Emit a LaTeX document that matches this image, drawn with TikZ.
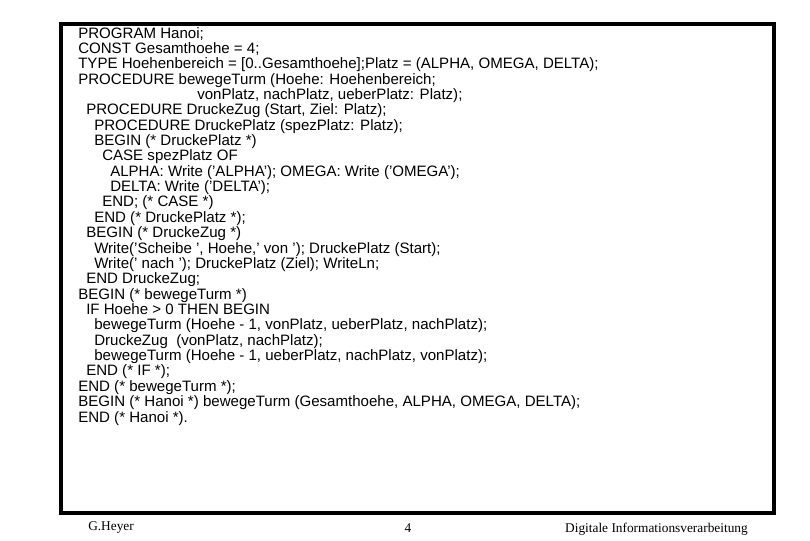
\documentclass[tikz,border=0pt]{standalone}
\usepackage{fontspec}
\setmainfont{Liberation Sans}
\newfontfamily\serif{Liberation Serif}
\begin{document}
\begin{tikzpicture}[x=0.75pt,y=-0.75pt,
  code/.style={anchor=base west,inner sep=0pt,font=\fontsize{11.3}{13}\selectfont},
  foot/.style={inner sep=0pt,font=\serif\fontsize{10}{12}\selectfont}]
\useasboundingbox (0,0) rectangle (810,540);
\draw[line width=3.6pt] (61,24) rectangle (774,513);
\node[code] (l1) at (78,38) {PROGRAM Hanoi;};
\node[code] (l2) at (78,53.36) {CONST Gesamthoehe = 4;};
\node[code] (l3) at (78,68.72) {TYPE Hoehenbereich = [0..Gesamthoehe];Platz = (ALPHA, OMEGA, DELTA);};
\node[code] (l4) at (78,84.08) {PROCEDURE bewegeTurm (Hoehe: Hoehenbereich;};
\node[code] (l5) at (197,99.44) {vonPlatz, nachPlatz, ueberPlatz: Platz);};
\node[code] (l6) at (86,114.8) {PROCEDURE DruckeZug (Start, Ziel: Platz);};
\node[code] (l7) at (94,130.16) {PROCEDURE DruckePlatz (spezPlatz: Platz);};
\node[code] (l8) at (94,145.52) {BEGIN (* DruckePlatz *)};
\node[code] (l9) at (102,160.88) {CASE spezPlatz OF};
\node[code] (l10) at (110,176.24) {ALPHA: Write ('ALPHA'); OMEGA: Write ('OMEGA');};
\node[code] (l11) at (110,191.6) {DELTA: Write ('DELTA');};
\node[code] (l12) at (102,206.96) {END; (* CASE *)};
\node[code] (l13) at (94,222.32) {END (* DruckePlatz *);};
\node[code] (l14) at (86,237.68) {BEGIN (* DruckeZug *)};
\node[code] (l15) at (94,253.04) {Write('Scheibe ', Hoehe,' von '); DruckePlatz (Start);};
\node[code] (l16) at (94,268.4) {Write(' nach '); DruckePlatz (Ziel); WriteLn;};
\node[code] (l17) at (86,283.76) {END DruckeZug;};
\node[code] (l18) at (78,299.12) {BEGIN (* bewegeTurm *)};
\node[code] (l19) at (86,314.48) {IF Hoehe > 0 THEN BEGIN};
\node[code] (l20) at (94,329.84) {bewegeTurm (Hoehe - 1, vonPlatz, ueberPlatz, nachPlatz);};
\node[code] (l21) at (94,345.2) {DruckeZug \ (vonPlatz, nachPlatz);};
\node[code] (l22) at (94,360.56) {bewegeTurm (Hoehe - 1, ueberPlatz, nachPlatz, vonPlatz);};
\node[code] (l23) at (86,375.92) {END (* IF *);};
\node[code] (l24) at (78,391.28) {END (* bewegeTurm *);};
\node[code] (l25) at (78,406.64) {BEGIN (* Hanoi *) bewegeTurm (Gesamthoehe, ALPHA, OMEGA, DELTA);};
\node[code] (l26) at (78,422) {END (* Hanoi *).};
\node[foot,anchor=west] (f1) at (88,528) {G.Heyer};
\node[foot] (f2) at (408,528) {4};
\node[foot,anchor=east] (f3) at (748,529) {Digitale Informationsverarbeitung};
\end{tikzpicture}
\end{document}
